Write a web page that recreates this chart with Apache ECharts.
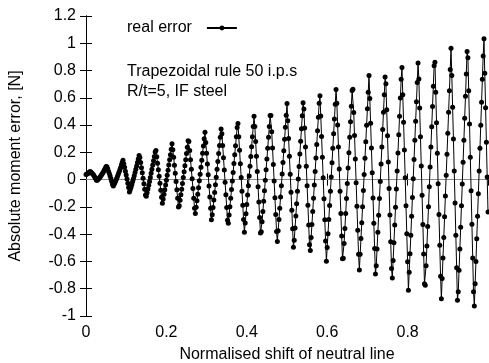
<!DOCTYPE html>
<html><head><meta charset="utf-8">
<script src="https://cdn.jsdelivr.net/npm/echarts@6/dist/echarts.min.js"></script>
<style>html,body{margin:0;padding:0;background:#fff}#c{width:489px;height:363px}</style>
</head><body><div id="c"></div>
<script>
// Normalised shift of neutral line: samples every 0.002, starting at 0
const shiftStart = 0;
const shiftStep = 0.002;

// Absolute moment error [N] (shift 0.000 - 0.198)
const errorPart1 = [0.038,0.041,0.044,0.049,0.054,0.060,
0.056,0.051,0.044,0.037,0.028,0.018,0.008,-0.004,-0.004,0.002,0.009,0.016,0.023,0.032,0.041,0.050,0.061,0.072,0.084,0.096,
0.094,0.079,0.062,0.045,0.026,0.007,-0.014,-0.035,-0.046,-0.034,-0.021,-0.008,0.007,0.022,0.037,0.054,0.071,0.088,0.107,0.126,
0.142,0.116,0.090,0.062,0.034,0.004,-0.026,-0.057,-0.090,-0.075,-0.055,-0.035,-0.014,0.007,0.029,0.052,0.076,0.100,0.125,0.151,0.177,
0.162,0.125,0.088,0.050,0.010,-0.030,-0.071,-0.113,-0.122,-0.096,-0.069,-0.041,-0.013,0.016,0.046,0.076,0.107,0.138,0.170,0.203,
0.214,0.168,0.121,0.073,0.024,-0.027,-0.078,-0.130,-0.174,-0.142,-0.108,-0.074,-0.039];
// shift 0.200 - 0.398
const errorPart2 = [-0.004,0.032,0.069,0.107,0.145,0.183,0.223,0.263,
0.220,0.164,0.105,0.046,-0.014,-0.075,-0.137,-0.200,-0.192,-0.152,-0.111,-0.070,-0.028,0.015,0.058,0.102,0.146,0.192,0.238,0.285,
0.280,0.213,0.145,0.076,0.006,-0.065,-0.137,-0.210,-0.249,-0.203,-0.155,-0.107,-0.059,-0.009,0.040,0.091,0.142,0.194,0.247,0.300,
0.348,0.272,0.194,0.115,0.035,-0.046,-0.128,-0.210,-0.294,-0.257,-0.204,-0.150,-0.094,-0.038,0.018,0.076,0.133,0.192,0.251,0.311,0.371,
0.337,0.250,0.161,0.071,-0.019,-0.111,-0.204,-0.298,-0.320,-0.259,-0.198,-0.136,-0.073,-0.010,0.053,0.118,0.183,0.249,0.315,0.382,
0.412,0.315,0.216,0.117,0.016,-0.086,-0.188,-0.292,-0.385,-0.318,-0.251];
// shift 0.400 - 0.598
const errorPart3 = [-0.182,-0.113,-0.044,0.027,0.098,0.170,0.242,0.315,0.389,0.464,
0.389,0.280,0.171,0.060,-0.052,-0.164,-0.278,-0.392,-0.383,-0.309,-0.234,-0.158,-0.082,-0.005,0.072,0.151,0.230,0.310,0.390,0.471,
0.470,0.351,0.232,0.111,-0.010,-0.133,-0.256,-0.380,-0.454,-0.374,-0.292,-0.210,-0.127,-0.044,0.041,0.126,0.211,0.297,0.385,0.472,
0.559,0.431,0.302,0.172,0.040,-0.092,-0.225,-0.360,-0.495,-0.444,-0.355,-0.266,-0.177,-0.086,0.004,0.096,0.188,0.281,0.374,0.468,0.563,
0.518,0.379,0.239,0.098,-0.044,-0.188,-0.332,-0.477,-0.519,-0.424,-0.329,-0.233,-0.136,-0.039,0.060,0.158,0.257,0.358,0.458,0.560,
0.615,0.466,0.316,0.165,0.013,-0.140,-0.295,-0.450,-0.599];
// shift 0.600 - 0.798
const errorPart4 = [-0.498,-0.396,-0.293,-0.190,-0.086,0.019,0.124,0.230,0.337,0.444,0.553,0.661,
0.561,0.401,0.240,0.078,-0.085,-0.249,-0.414,-0.580,-0.577,-0.469,-0.359,-0.249,-0.139,-0.028,0.085,0.197,0.310,0.425,0.539,0.654,
0.663,0.493,0.323,0.151,-0.022,-0.196,-0.371,-0.547,-0.663,-0.548,-0.432,-0.316,-0.199,-0.080,0.038,0.157,0.278,0.398,0.519,0.641,0.764,
0.595,0.414,0.232,0.050,-0.134,-0.319,-0.505,-0.692,-0.632,-0.509,-0.386,-0.262,-0.138,-0.013,0.114,0.240,0.367,0.495,0.623,0.752,
0.704,0.513,0.322,0.129,-0.065,-0.260,-0.455,-0.652,-0.722,-0.593,-0.463,-0.332,-0.202,-0.069,0.063,0.195,0.330,0.464,0.599,0.736,
0.822,0.622,0.420,0.217,0.014,-0.191,-0.397];
// shift 0.800 - 1.000
const errorPart5 = [-0.603,-0.811,-0.680,-0.544,-0.408,-0.269,-0.131,0.007,0.148,0.288,0.429,0.571,0.713,0.856,
0.738,0.526,0.314,0.100,-0.114,-0.329,-0.546,-0.763,-0.774,-0.631,-0.487,-0.344,-0.199,-0.053,0.093,0.240,0.388,0.536,0.685,0.835,
0.861,0.640,0.418,0.194,-0.030,-0.255,-0.481,-0.709,-0.874,-0.725,-0.575,-0.424,-0.272,-0.120,0.033,0.187,0.341,0.495,0.651,0.807,0.964,
0.763,0.531,0.298,0.063,-0.172,-0.408,-0.646,-0.884,-0.823,-0.665,-0.508,-0.350,-0.191,-0.032,0.128,0.288,0.451,0.612,0.775,0.939,
0.894,0.651,0.408,0.164,-0.081,-0.327,-0.575,-0.823,-0.926,-0.763,-0.600,-0.434,-0.269,-0.104,0.064,0.231,0.398,0.567,0.737,0.907,
1.033,0.781,0.528,0.274,0.019,-0.237];

const xTickValues = [0, 0.2, 0.4, 0.6, 0.8, 1];
const yTickValues = [-1, -0.8, -0.6, -0.4, -0.2, 0, 0.2, 0.4, 0.6, 0.8, 1, 1.2];
const seriesName = 'real error';
const noteLines = ['Trapezoidal rule 50 i.p.s', 'R/t=5, IF steel'];

const errorValues = [].concat(errorPart1, errorPart2, errorPart3, errorPart4, errorPart5);
const points = errorValues.map((v, i) => [+(shiftStart + i * shiftStep).toFixed(3), v]);

const FONT = 'Liberation Sans, Arial, Helvetica, sans-serif';
const chart = echarts.init(document.getElementById('c'), null, {renderer: 'canvas'});
const tickIn = {show: true, inside: true, length: 6, lineStyle: {color: '#000', width: 1}};
const axLine = {show: true, lineStyle: {color: '#000', width: 1}};
chart.setOption({
  animation: false,
  backgroundColor: '#fff',
  textStyle: {fontFamily: FONT},
  grid: {left: 86, right: 1, top: 16, bottom: 47, show: false, containLabel: false, outerBoundsMode: 'none'},
  legend: {
    data: [seriesName], left: 127, top: 20, align: 'right', itemWidth: 30, itemHeight: 6,
    itemGap: 0, padding: 0,
    textStyle: {fontSize: 16, color: '#000', fontFamily: FONT, padding: [0, 10, 0, 0]}
  },
  graphic: noteLines.map((t, k) => ({
    type: 'text', left: 127, top: 64 + k * 20, silent: true,
    style: {text: t, fill: '#000', font: '16px ' + FONT}
  })),
  xAxis: [{
    type: 'value', min: xTickValues[0], max: xTickValues[xTickValues.length - 1], interval: 0.2,
    position: 'bottom', axisLine: axLine, axisTick: tickIn, splitLine: {show: false},
    axisLabel: {color: '#000', fontSize: 16, margin: 9, showMaxLabel: false, fontFamily: FONT},
    name: 'Normalised shift of neutral line', nameLocation: 'middle', nameGap: 31,
    nameTextStyle: {color: '#000', fontSize: 16, fontFamily: FONT}
  }, {
    type: 'value', min: 0, max: 1, interval: 0.2, position: 'top',
    axisLine: axLine, axisTick: tickIn, axisLabel: {show: false}, splitLine: {show: false}
  }],
  yAxis: [{
    type: 'value', min: yTickValues[0], max: yTickValues[yTickValues.length - 1], interval: 0.2,
    position: 'left', axisLine: axLine, axisTick: tickIn, splitLine: {show: false},
    axisLabel: {color: '#000', fontSize: 16, margin: 10, fontFamily: FONT},
    name: 'Absolute moment error, [N]', nameLocation: 'middle', nameGap: 62, nameRotate: 90,
    nameTextStyle: {color: '#000', fontSize: 16, fontFamily: FONT}
  }, {
    type: 'value', min: -1, max: 1.2, interval: 0.2, position: 'right',
    axisLine: axLine, axisTick: tickIn, axisLabel: {show: false}, splitLine: {show: false}
  }],
  series: [{
    name: seriesName, type: 'line', xAxisIndex: 0, yAxisIndex: 0,
    data: points, symbol: 'circle', symbolSize: 5, showSymbol: true, showAllSymbol: true,
    lineStyle: {color: '#000', width: 1}, itemStyle: {color: '#000'},
    clip: true, z: 3,
    markLine: {
      silent: true, symbol: 'none', label: {show: false}, z: 1,
      lineStyle: {color: '#8c8c8c', width: 1, type: 'solid'},
      data: [{yAxis: 0}]
    }
  }]
});
</script></body></html>
